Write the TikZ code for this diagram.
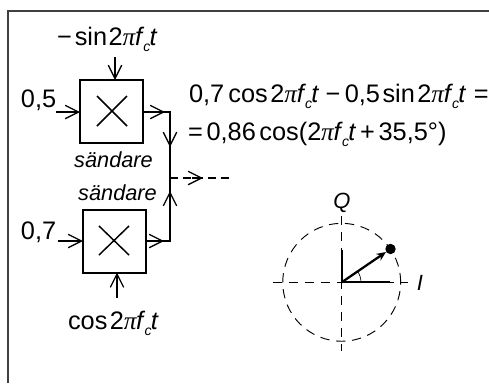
\documentclass[tikz,border=0pt]{standalone}
\usepackage{fontspec}
\setmainfont{Liberation Sans}
\newfontfamily\serifgr{Liberation Serif}
\usetikzlibrary{arrows.meta}
\newcommand{\mypi}{{\serifgr\itshape π}}
\newcommand{\fct}{2\kern-0.01em\mypi\kern-0.01em\textit{f}\kern-0.03em\raisebox{-0.24em}{\fontsize{10.5}{10}\selectfont\textit{c}}\kern-0.03em\textit{t}}
\tikzset{
  x=0.75pt,y=-0.75pt,
  barb/.style={-{Straight Barb[length=10pt,width=10pt,line width=1pt]}},
  wire/.style={line width=1.4pt,draw=black},
  boxnode/.style={draw,line width=1.5pt,minimum size=47.25pt,inner sep=0pt,outer sep=0pt},
  big/.style={inner sep=0pt,outer sep=0pt,font=\fontsize{19}{21}\selectfont},
  small/.style={inner sep=0pt,outer sep=0pt,font=\fontsize{16.3}{18}\selectfont\itshape},
  axislabel/.style={inner sep=0pt,outer sep=0pt,font=\fontsize{16.5}{18}\selectfont\itshape},
  dashline/.style={line width=0.9pt,dash pattern=on 6pt off 3.5pt},
  thindash/.style={line width=0.7pt,dash pattern=on 7pt off 5pt},
}
\begin{document}
\begin{tikzpicture}
\useasboundingbox (0,0) rectangle (489,383);
\draw[line width=1.5pt,draw=black!75] (8,383) -- (8,10.5) -- (489,10.5);

\node[boxnode] (m1) at (111.5,111.5) {};
\node[boxnode] (m2) at (114.5,241) {};
\draw[line width=1.1pt] (97,96) -- (127,126) (127,96) -- (97,126);
\draw[line width=1.1pt] (99,226) -- (129,255) (129,226) -- (99,255);

\node[big,anchor=base west] (sinl) at (57,45) {−\kern0.12em sin\kern0.06em\fct};
\node[big,anchor=base west] (a5) at (21,107) {0,5};
\node[big,anchor=base west] (a7) at (21,239) {0,7};
\node[big,anchor=base west] (cosl) at (68,329) {cos\kern0.1em\fct};
\node[small,anchor=base] (s1) at (113.5,167) {sändare};
\node[small,anchor=base] (s2) at (117.5,200.5) {sändare};
\node[big,anchor=base west] (e1) at (189,102) {0,7\kern0.17em cos\kern0.1em\fct\kern0.25em−\kern0.17em0,5\kern0.1em sin\kern0.1em\fct\kern0.3em=};
\node[big,anchor=base west] (e2) at (188,140) {=\kern0.15em0,86\kern0.14em cos(\fct\kern0.15em+\kern0.15em35,5°)};

\coordinate (in1) at (56,112);
\coordinate (in2) at (58,241);
\coordinate (top1) at (115,57);
\coordinate (bot2) at (117,298);
\coordinate (c1) at (170,112);
\coordinate (c2) at (170,241);
\coordinate (tip1) at (165,112);
\coordinate (tip2) at (164,241);
\coordinate (tip3) at (170,147);
\coordinate (tip4) at (170,191);
\coordinate (join) at (170,178);
\coordinate (dtip) at (203,178);
\coordinate (dend) at (229,178);

\draw[barb,wire] (in1) -- (in1-|m1.west);
\draw[barb,wire] (in2) -- (in2-|m2.west);
\draw[barb,wire] (top1) -- (top1|-m1.north);
\draw[barb,wire] (bot2) -- (bot2|-m2.south);
\draw[wire] (m1.east|-c1) -- (c1) -- (c2) -- (m2.east|-c2);
\draw[barb,wire] (m1.east|-tip1) -- (tip1);
\draw[barb,wire] (m2.east|-tip2) -- (tip2);
\draw[barb,wire] (c1) -- (tip3);
\draw[barb,wire] (c2) -- (tip4);
\draw[dashline] (join) -- (dend);
\draw[-{Straight Barb[length=10pt,width=10pt,line width=1pt]},line width=0.9pt] (192,178) -- (dtip);

% I-Q diagram
\coordinate (o) at (341.7,282.3);
\node[axislabel,anchor=base] (q) at (342,208) {Q};
\node[axislabel,anchor=base] (i) at (420,290) {I};
\draw[thindash] (o) circle[radius=44.2pt];
\draw[thindash] (273,282.3) -- (408,282.3);
\draw[thindash] (341.7,216) -- (341.7,351);
\draw[line width=1.5pt] (o) -- (341.7,250);
\draw[line width=1.5pt] (o) -- (390,282.3);
\coordinate (d) at (390.5,249);
\fill (d) circle[radius=3.9pt];
\draw[line width=1.7pt,-{Stealth[length=7pt,width=6pt]}] (o) -- (386,252);
\draw[line width=0.5pt] (361,282.3) arc[start angle=0,end angle=36,radius=14.5pt];
\end{tikzpicture}
\end{document}
